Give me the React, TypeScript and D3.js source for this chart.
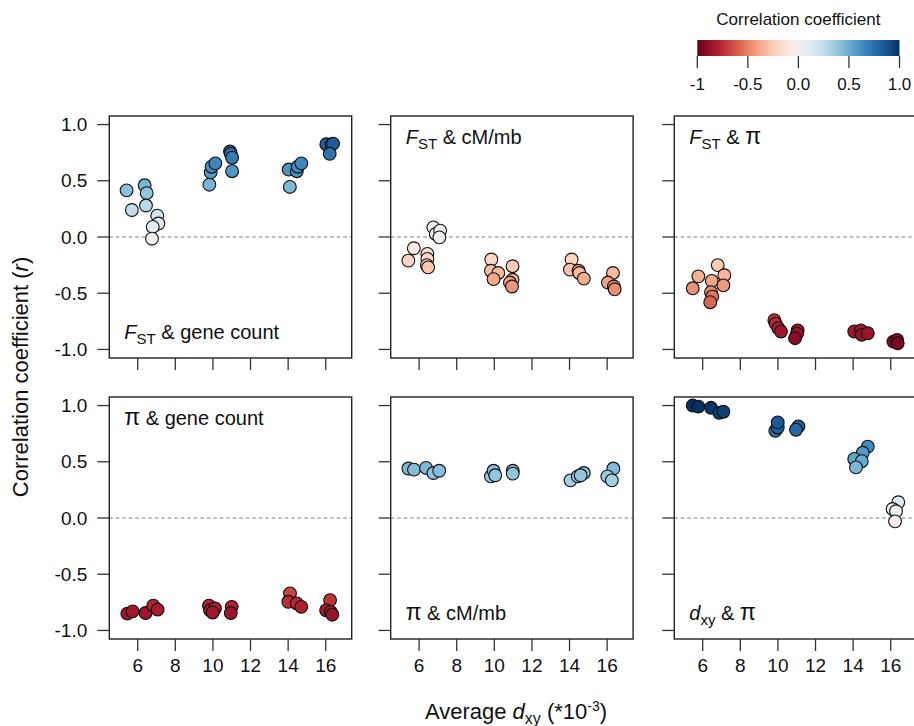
import React from "react";
import * as d3 from "d3";

// ---------- data ----------
const xTicks = [6, 8, 10, 12, 14, 16];
const yTicks = [-1, -0.5, 0, 0.5, 1];
const yTickLabels = ["-1.0", "-0.5", "0.0", "0.5", "1.0"];
const legendTicks = [-1, -0.5, 0, 0.5, 1];
const legendTickLabels = ["-1", "-0.5", "0.0", "0.5", "1.0"];

const fstGeneX = [5.41, 5.69, 6.37, 6.48, 6.44, 7.04, 7.10, 6.80, 6.76, 9.81, 9.88, 9.93, 10.13, 10.91, 10.95, 11.02, 11.02, 14.09, 14.03, 14.46, 14.51, 14.70, 16.03, 16.32, 16.39, 16.21];
const fstGeneR = [0.415, 0.24, 0.46, 0.39, 0.28, 0.19, 0.12, 0.09, -0.015, 0.465, 0.575, 0.625, 0.655, 0.76, 0.74, 0.705, 0.585, 0.445, 0.6, 0.585, 0.625, 0.655, 0.825, 0.825, 0.83, 0.74];

const fstCmX = [5.43, 5.72, 6.44, 6.44, 6.41, 6.48, 6.76, 6.89, 7.12, 7.08, 9.84, 9.82, 10.21, 9.96, 10.97, 10.97, 10.83, 10.94, 14.11, 14.02, 14.48, 14.52, 14.76, 16.31, 16.04, 16.36, 16.40];
const fstCmR = [-0.21, -0.10, -0.15, -0.195, -0.25, -0.27, 0.085, 0.027, 0.056, -0.003, -0.2, -0.3, -0.32, -0.375, -0.26, -0.38, -0.405, -0.44, -0.2, -0.29, -0.3, -0.32, -0.37, -0.32, -0.405, -0.44, -0.465];

const fstPiX = [5.47, 5.77, 6.80, 6.48, 7.15, 7.10, 6.44, 6.51, 6.40, 9.81, 9.88, 10.02, 10.16, 11.05, 11.02, 10.91, 14.06, 14.42, 14.46, 14.78, 16.14, 16.34, 16.37];
const fstPiR = [-0.456, -0.35, -0.25, -0.39, -0.34, -0.43, -0.49, -0.53, -0.58, -0.74, -0.77, -0.81, -0.84, -0.83, -0.86, -0.9, -0.84, -0.83, -0.87, -0.856, -0.93, -0.915, -0.945];

const piGeneX = [5.45, 5.73, 6.42, 6.83, 7.06, 9.79, 9.85, 10.11, 9.99, 11.0, 10.95, 14.1, 14.01, 14.46, 14.7, 16.23, 16.02, 16.27, 16.35];
const piGeneR = [-0.85, -0.83, -0.845, -0.78, -0.815, -0.78, -0.82, -0.805, -0.84, -0.79, -0.845, -0.67, -0.745, -0.76, -0.79, -0.73, -0.82, -0.835, -0.86];

const piCmX = [5.43, 5.73, 6.37, 6.76, 7.07, 9.82, 9.96, 10.05, 10.98, 10.98, 14.05, 14.44, 14.76, 14.59, 16.33, 16.01, 16.25];
const piCmR = [0.44, 0.43, 0.445, 0.40, 0.42, 0.37, 0.42, 0.38, 0.42, 0.395, 0.335, 0.37, 0.40, 0.38, 0.44, 0.37, 0.335];

const dxyPiX = [5.47, 5.77, 6.44, 6.88, 7.10, 9.86, 9.99, 11.09, 10.96, 9.99, 14.78, 14.51, 14.06, 14.46, 14.15, 16.40, 16.10, 16.28, 16.23];
const dxyPiR = [1.0, 0.99, 0.98, 0.935, 0.945, 0.775, 0.805, 0.815, 0.785, 0.85, 0.635, 0.58, 0.525, 0.505, 0.45, 0.14, 0.08, 0.06, -0.03];

// ---------- layout ----------
const W = 914;
const H = 726;
const PW = 242.4;
const PH = 242;
const colX = [109.3, 390.7, 674.3];
const rowY = [116, 397];
const FONT = "'Liberation Sans', Arial, Helvetica, sans-serif";

type Label = { main: string; mainItalic: boolean; sub?: string; rest: string; tail?: string };

const panels = [
  { row: 0, col: 0, xs: fstGeneX, rs: fstGeneR, label: { main: "F", mainItalic: true, sub: "ST", rest: " & gene count" } as Label, pos: "bottom" },
  { row: 0, col: 1, xs: fstCmX, rs: fstCmR, label: { main: "F", mainItalic: true, sub: "ST", rest: " & cM/mb" } as Label, pos: "top" },
  { row: 0, col: 2, xs: fstPiX, rs: fstPiR, label: { main: "F", mainItalic: true, sub: "ST", rest: " & ", tail: "π" } as Label, pos: "top" },
  { row: 1, col: 0, xs: piGeneX, rs: piGeneR, label: { main: "π", mainItalic: false, rest: " & gene count" } as Label, pos: "top" },
  { row: 1, col: 1, xs: piCmX, rs: piCmR, label: { main: "π", mainItalic: false, rest: " & cM/mb" } as Label, pos: "bottom" },
  { row: 1, col: 2, xs: dxyPiX, rs: dxyPiR, label: { main: "d", mainItalic: true, sub: "xy", rest: " & ", tail: "π" } as Label, pos: "bottom" },
];

const color = (r: number) => d3.interpolateRdBu((r + 1) / 2);
const PI_SIZE = 23;

function Panel({ p }: { p: (typeof panels)[number] }) {
  const x0 = colX[p.col];
  const y0 = rowY[p.row];
  const x = d3.scaleLinear().domain([4.49, 17.38]).range([x0, x0 + PW]);
  const y = d3.scaleLinear().domain([-1.076, 1.076]).range([y0 + PH, y0]);
  const tick = 12;
  const lab = p.label;
  const ly = p.pos === "top" ? y0 + 28 : y0 + PH - 19;
  const lx = x0 + 15;
  const mainSize = lab.main === "π" ? PI_SIZE : 20;
  return (
    <g>
      <line x1={x0} x2={x0 + PW} y1={y(0)} y2={y(0)} stroke="#7a7a7a" strokeWidth={1} strokeDasharray="3.5,3" />
      {p.xs.map((v, i) => (
        <circle key={i} cx={x(v)} cy={y(p.rs[i])} r={6.4} fill={color(p.rs[i])} stroke="#111" strokeWidth={1.1} />
      ))}
      <rect x={x0} y={y0} width={PW} height={PH} fill="none" stroke="#222" strokeWidth={1.4} />
      {yTicks.map((t, i) => (
        <g key={"y" + i}>
          <line x1={x0 - tick} x2={x0} y1={y(t)} y2={y(t)} stroke="#333" strokeWidth={1.3} />
          {p.col === 0 && (
            <text x={x0 - 22} y={y(t)} dy="0.35em" textAnchor="end" fontSize={19} fontFamily={FONT} fill="#111">
              {yTickLabels[i]}
            </text>
          )}
        </g>
      ))}
      {xTicks.map((t) => (
        <g key={"x" + t}>
          <line x1={x(t)} x2={x(t)} y1={y0 + PH} y2={y0 + PH + tick} stroke="#333" strokeWidth={1.3} />
          {p.row === 1 && (
            <text x={x(t)} y={y0 + PH + 33} textAnchor="middle" fontSize={19} fontFamily={FONT} fill="#111">
              {t}
            </text>
          )}
        </g>
      ))}
      <text x={lx} y={ly} fontSize={20} fontFamily={FONT} fill="#111">
        <tspan fontStyle={lab.mainItalic ? "italic" : "normal"} fontSize={mainSize}>{lab.main}</tspan>
        {lab.sub && (
          <tspan fontSize={15} dy={5}>
            {lab.sub}
          </tspan>
        )}
        <tspan dy={lab.sub ? -5 : 0}>{lab.rest}</tspan>
        {lab.tail && <tspan fontSize={PI_SIZE}>{lab.tail}</tspan>}
      </text>
    </g>
  );
}

function Legend() {
  const lx = d3.scaleLinear().domain([-1, 1]).range([697.3, 899.5]);
  const stops = d3.range(0, 1.0001, 0.05);
  return (
    <g>
      <defs>
        <linearGradient id="rdbu" x1="0" x2="1" y1="0" y2="0">
          {stops.map((s, i) => (
            <stop key={i} offset={s} stopColor={d3.interpolateRdBu(s)} />
          ))}
        </linearGradient>
      </defs>
      <text x={(lx(-1) + lx(1)) / 2} y={25} textAnchor="middle" fontSize={17} fontFamily={FONT} fill="#111">
        Correlation coefficient
      </text>
      <rect x={lx(-1)} y={40} width={lx(1) - lx(-1)} height={16} fill="url(#rdbu)" />
      {legendTicks.map((t, i) => (
        <g key={i}>
          <line x1={lx(t)} x2={lx(t)} y1={56} y2={68} stroke="#333" strokeWidth={1.3} />
          <text x={lx(t)} y={90} textAnchor="middle" fontSize={17} fontFamily={FONT} fill="#111">
            {legendTickLabels[i]}
          </text>
        </g>
      ))}
    </g>
  );
}

export default function App() {
  return (
    <svg width={W} height={H} style={{ position: "absolute", left: 0, top: 0, background: "#fff" }}>
      <rect x={0} y={0} width={W} height={H} fill="#fff" />
      {panels.map((p, i) => (
        <Panel key={i} p={p} />
      ))}
      <Legend />
      <text transform={`translate(28, 377) rotate(-90)`} textAnchor="middle" fontSize={22} fontFamily={FONT} fill="#111">
        Correlation coefficient (<tspan fontStyle="italic">r</tspan>)
      </text>
      <text x={516} y={719} textAnchor="middle" fontSize={22} fontFamily={FONT} fill="#111">
        Average <tspan fontStyle="italic">d</tspan>
        <tspan fontSize={16} dy={5}>xy</tspan>
        <tspan dy={-5}> (*10</tspan>
        <tspan fontSize={14} dy={-8}>-3</tspan>
        <tspan dy={8}>)</tspan>
      </text>
    </svg>
  );
}
